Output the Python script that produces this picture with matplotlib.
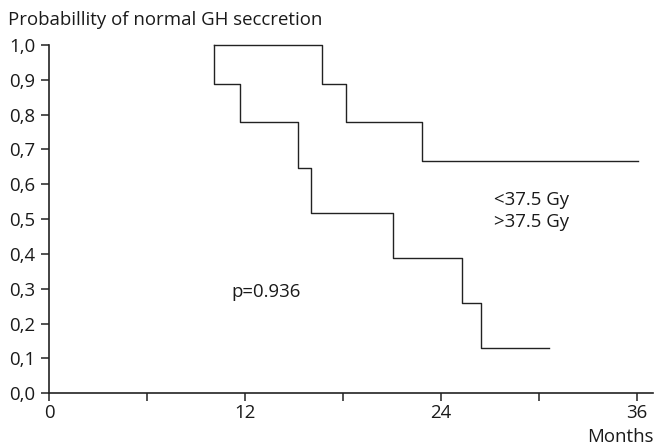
import matplotlib
matplotlib.use('Agg')
import matplotlib.pyplot as plt

plt.rcParams['font.family'] = ['Open Sans', 'DejaVu Sans']

# Kaplan-Meier step data (months, probability)
low_dose_t = [10.1, 16.75, 18.2, 22.85, 36.1]
low_dose_p = [1.0, 0.889, 0.778, 0.667, 0.667]
high_dose_t = [10.1, 11.7, 15.25, 16.05, 21.05, 25.3, 26.45, 30.65]
high_dose_p = [0.889, 0.778, 0.648, 0.519, 0.389, 0.259, 0.130, 0.130]

ytick_vals = [0.0, 0.1, 0.2, 0.3, 0.4, 0.5, 0.6, 0.7, 0.8, 0.9, 1.0]
ytick_labels = ['0,0', '0,1', '0,2', '0,3', '0,4', '0,5', '0,6', '0,7', '0,8', '0,9', '1,0']
xtick_vals = [0, 6, 12, 18, 24, 30, 36]
xtick_labels = ['0', '', '12', '', '24', '', '36']

fs = 13.4

fig = plt.figure(figsize=(6.56, 4.45), dpi=100)
ax = fig.add_axes([0.0747, 0.1162, 0.9207, 0.7827])

col = '#222222'
txt = '#1a1a1a'
# both curves start from 1.0 at the first event
ax.step([low_dose_t[0]] + low_dose_t, [1.0] + low_dose_p, where='post',
        color=col, lw=1.0, clip_on=False)
ax.step([high_dose_t[0]] + high_dose_t, [1.0] + high_dose_p, where='post',
        color=col, lw=1.0, clip_on=False)

ax.set_xlim(0, 37)
ax.set_ylim(0, 1.0)
ax.set_yticks(ytick_vals)
ax.set_yticklabels(ytick_labels)
ax.set_xticks(xtick_vals)
ax.set_xticklabels(xtick_labels)

for s in ['top', 'right']:
    ax.spines[s].set_visible(False)
for s in ['left', 'bottom']:
    ax.spines[s].set_linewidth(1.2)
    ax.spines[s].set_color(col)
ax.tick_params(axis='both', direction='out', length=6, width=1.1, colors=col,
               labelsize=fs, labelcolor=txt)
ax.tick_params(axis='y', pad=4)
ax.tick_params(axis='x', pad=2)

ax.text(11.15, 0.292, 'p=0.936', fontsize=fs, va='center', color=txt)
ax.text(27.25, 0.555, '<37.5 Gy', fontsize=fs, va='center', color=txt)
ax.text(27.25, 0.493, '>37.5 Gy', fontsize=fs, va='center', color=txt)

fig.text(0.012, 0.955, 'Probabillity of normal GH seccretion', fontsize=fs,
         va='center', ha='left', color=txt)
fig.text(0.997, 0.007, 'Months', fontsize=fs, va='baseline', ha='right', color=txt)

fig.savefig('out.png', dpi=100)
plt.close(fig)
